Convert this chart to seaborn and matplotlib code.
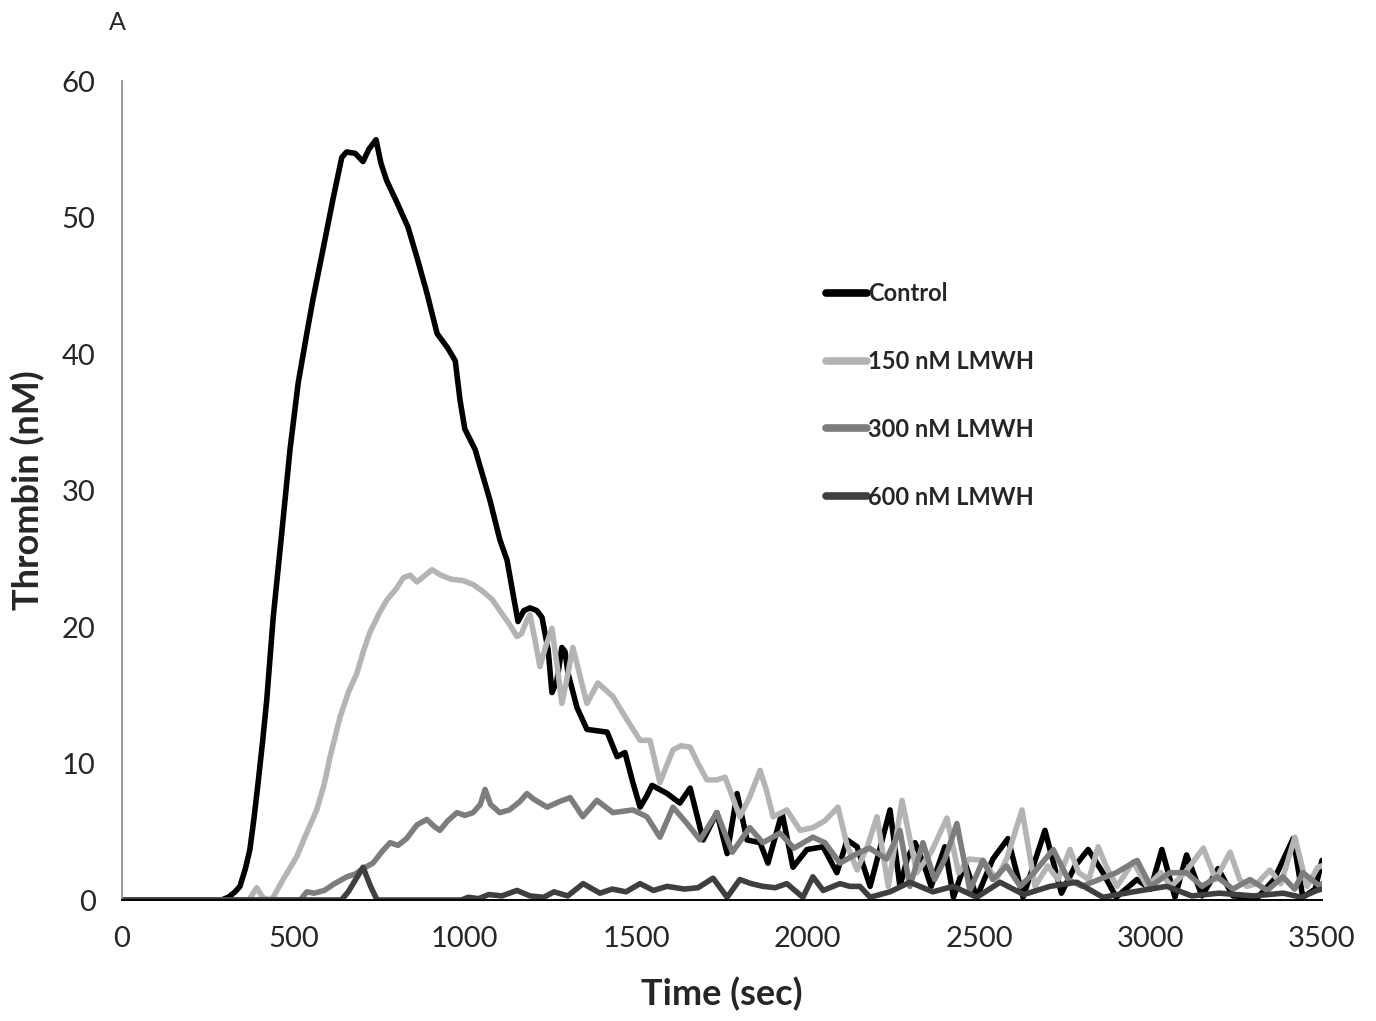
import numpy as np
import pandas as pd
import matplotlib
matplotlib.use("Agg")
import matplotlib.pyplot as plt
from matplotlib.lines import Line2D
import seaborn as sns

# Thrombin generation curves (time in seconds, thrombin in nM)
control_t = [0, 290, 310, 330, 344, 360, 373, 385, 397, 410, 422, 441, 466, 490, 514, 539, 557,
             585, 615, 641, 655, 680, 703, 720, 741, 755, 772, 802, 834, 860, 889, 919, 951, 972,
             986, 1000, 1030, 1073, 1102, 1123, 1140, 1155, 1172, 1190, 1210, 1225, 1243, 1254,
             1268, 1283, 1292, 1301, 1327, 1356, 1385, 1415, 1444, 1467, 1490, 1511, 1530, 1546,
             1590, 1627, 1657, 1695, 1735, 1765, 1794, 1823, 1861, 1884, 1925, 1957, 1998, 2045,
             2085, 2115, 2144, 2182, 2240, 2269, 2290, 2313, 2340, 2360, 2400, 2425, 2459, 2493,
             2540, 2584, 2628, 2692, 2740, 2780, 2818, 2861, 2900, 2960, 3000, 3033, 3071, 3105,
             3150, 3197, 3240, 3313, 3360, 3416, 3444, 3480, 3500]
control_v = [0, 0, 0.2, 0.6, 1.0, 2.3, 3.7, 6.0, 8.6, 11.6, 14.6, 20.7, 26.9, 33.0, 37.9, 41.5, 44.0,
             47.5, 51.3, 54.4, 54.8, 54.7, 54.1, 55.0, 55.7, 54.0, 52.7, 51.1, 49.3, 47.1, 44.5, 41.5,
             40.4, 39.5, 36.6, 34.5, 33.0, 29.3, 26.4, 24.9, 22.5, 20.4, 21.2, 21.4, 21.2, 20.7, 18.3,
             15.2, 16.0, 18.5, 18.2, 16.6, 14.1, 12.5, 12.4, 12.3, 10.5, 10.8, 8.6, 6.8, 7.6, 8.4,
             7.8, 7.1, 8.2, 4.4, 6.4, 3.4, 7.8, 4.4, 4.2, 2.7, 6.4, 2.4, 3.7, 3.9,
             2.0, 4.4, 3.9, 1.0, 6.6, 1.0, 3.0, 4.2, 2.5, 1.0, 3.9, 0.2, 2.7, 0.2,
             3.0, 4.5, 0.2, 5.1, 0.5, 2.5, 3.7, 2.0, 0.2, 1.5, 0.8, 3.7, 0.2, 3.3,
             0.3, 2.3, 0.3, 0.2, 1.5, 4.5, 0.2, 0.8, 2.9]

lmwh150_t = [0, 370, 393, 410, 430, 441, 470, 510, 540, 568, 590, 607, 636, 660, 685, 705, 723, 750,
             773, 800, 820, 840, 860, 880, 904, 930, 960, 995, 1025, 1053, 1080, 1102, 1130, 1152,
             1165, 1181, 1190, 1205, 1219, 1235, 1254, 1270, 1283, 1300, 1315, 1330, 1356, 1388,
             1410, 1432, 1473, 1511, 1540, 1569, 1607, 1630, 1657, 1680, 1706, 1735, 1759, 1802,
             1830, 1861, 1880, 1899, 1939, 1978, 2015, 2050, 2088, 2115, 2144, 2175, 2202, 2235,
             2275, 2318, 2360, 2406, 2440, 2470, 2511, 2550, 2580, 2625, 2663, 2700, 2730, 2765,
             2790, 2820, 2847, 2870, 2902, 2949, 2990, 3030, 3060, 3100, 3154, 3190, 3232, 3260,
             3281, 3310, 3348, 3380, 3421, 3456, 3488, 3500]
lmwh150_v = [0, 0, 0.9, 0.2, 0, 0.2, 1.5, 3.2, 5.0, 6.6, 8.5, 10.5, 13.4, 15.2, 16.6, 18.3, 19.6, 21.0,
             22.0, 22.8, 23.6, 23.8, 23.3, 23.7, 24.2, 23.8, 23.5, 23.4, 23.1, 22.6, 22.0, 21.2, 20.2,
             19.3, 19.5, 20.5, 20.9, 19.0, 17.1, 18.5, 19.9, 17.0, 14.4, 16.5, 18.5, 17.0, 14.4, 15.9,
             15.4, 14.9, 13.2, 11.7, 11.7, 8.6, 11.0, 11.3, 11.2, 10.0, 8.8, 8.8, 9.0, 6.1,
             7.5, 9.5, 8.0, 6.1, 6.6, 5.1, 5.3, 5.8, 6.8, 4.0, 2.2, 4.0, 6.1, 1.0,
             7.3, 2.0, 3.5, 6.0, 2.0, 3.0, 2.9, 1.5, 3.0, 6.6, 1.0, 2.5, 1.5, 3.7,
             2.0, 1.5, 3.9, 2.5, 1.0, 2.8, 1.0, 2.0, 1.0, 2.0, 3.8, 1.5, 3.5, 1.5,
             1.0, 1.2, 2.2, 1.2, 4.6, 1.0, 2.4, 2.5]

lmwh300_t = [0, 520, 539, 560, 590, 620, 656, 680, 703, 732, 760, 782, 805, 830, 860, 889, 910, 927,
             950, 977, 1000, 1024, 1045, 1059, 1075, 1102, 1130, 1160, 1181, 1200, 1240, 1275, 1307,
             1344, 1385, 1432, 1490, 1531, 1569, 1607, 1648, 1686, 1735, 1780, 1831, 1869, 1919,
             1960, 2015, 2050, 2094, 2144, 2180, 2230, 2269, 2298, 2336, 2370, 2400, 2435, 2473,
             2511, 2540, 2580, 2620, 2660, 2716, 2760, 2800, 2850, 2900, 2961, 3000, 3056, 3105,
             3150, 3194, 3240, 3290, 3340, 3386, 3420, 3444, 3494, 3500]
lmwh300_v = [0, 0, 0.6, 0.5, 0.7, 1.2, 1.7, 1.9, 2.3, 2.7, 3.6, 4.2, 4.0, 4.5, 5.5, 5.9, 5.4, 5.1,
             5.8, 6.4, 6.2, 6.4, 7.0, 8.1, 7.0, 6.4, 6.6, 7.2, 7.8, 7.4, 6.8, 7.2, 7.5,
             6.1, 7.3, 6.4, 6.6, 6.1, 4.6, 6.8, 5.6, 4.4, 6.4, 3.5, 5.3, 4.2, 4.9,
             3.8, 4.6, 4.2, 2.7, 3.4, 3.8, 3.0, 5.1, 1.0, 4.2, 1.5, 3.0, 5.6, 0.7,
             2.9, 1.5, 2.5, 1.0, 2.0, 3.7, 1.5, 1.0, 1.5, 2.0, 2.9, 1.0, 2.0, 2.0,
             1.0, 1.7, 0.8, 1.5, 0.7, 1.7, 0.8, 2.0, 1.0, 1.2]

lmwh600_t = [0, 640, 660, 703, 725, 744, 990, 1010, 1040, 1070, 1108, 1152, 1190, 1230, 1260, 1300,
             1345, 1394, 1430, 1470, 1511, 1550, 1590, 1640, 1680, 1724, 1765, 1802, 1835, 1869,
             1905, 1939, 1986, 2015, 2045, 2094, 2123, 2152, 2182, 2240, 2298, 2365, 2425, 2493,
             2561, 2630, 2707, 2785, 2861, 2950, 3047, 3120, 3200, 3300, 3387, 3440, 3485, 3500]
lmwh600_v = [0, 0, 0.6, 2.4, 1.0, 0, 0, 0.2, 0.1, 0.4, 0.3, 0.7, 0.3, 0.2, 0.6, 0.3,
             1.2, 0.5, 0.8, 0.6, 1.2, 0.7, 1.0, 0.8, 0.9, 1.6, 0.2, 1.5, 1.2, 1.0,
             0.9, 1.2, 0.2, 1.7, 0.7, 1.2, 1.0, 1.0, 0.2, 0.6, 1.3, 0.6, 1.0, 0.2,
             1.3, 0.4, 1.0, 1.3, 0.2, 0.6, 1.0, 0.3, 0.5, 0.3, 0.5, 0.2, 0.7, 0.8]

series_names = ["Control", "150 nM LMWH", "300 nM LMWH", "600 nM LMWH"]
series_colors = ["#000000", "#b4b4b4", "#7d7d7d", "#3f3f3f"]
x_ticks = [0, 500, 1000, 1500, 2000, 2500, 3000, 3500]
y_ticks = [0, 10, 20, 30, 40, 50, 60]

frames = []
for name, t, v in zip(series_names,
                      [control_t, lmwh150_t, lmwh300_t, lmwh600_t],
                      [control_v, lmwh150_v, lmwh300_v, lmwh600_v]):
    frames.append(pd.DataFrame({"Time": t, "Thrombin": v, "Series": name}))
df = pd.concat(frames, ignore_index=True)

sns.set_style("white")
plt.rcParams["font.family"] = ["Lato", "DejaVu Sans"]

fig = plt.figure(figsize=(13.76, 10.21), dpi=100)
ax = fig.add_axes([122 / 1376, 1 - 900 / 1021, 1200 / 1376, 819 / 1021])

sns.lineplot(data=df, x="Time", y="Thrombin", hue="Series", hue_order=series_names,
             palette=dict(zip(series_names, series_colors)), estimator=None, sort=True,
             linewidth=4.0, ax=ax, legend=False)
for line in ax.get_lines():
    line.set_solid_joinstyle("round")
    line.set_solid_capstyle("round")

ax.set_xlim(0, 3500)
ax.set_ylim(0, 60)
ax.set_xticks(x_ticks)
ax.set_yticks(y_ticks)
ax.tick_params(axis="both", labelsize=21, direction="out", length=7, width=1.2, pad=12)
ax.tick_params(axis="y", color="#808080")
ax.tick_params(axis="x", color="#000000")
for side in ("top", "right"):
    ax.spines[side].set_visible(False)
ax.spines["left"].set_color("#8a8a8a")
ax.spines["left"].set_linewidth(1.2)
ax.spines["bottom"].set_color("#000000")
ax.spines["bottom"].set_linewidth(1.4)

ax.set_xlabel("Time (sec)", fontsize=26, fontweight="bold")
ax.set_ylabel("Thrombin (nM)", fontsize=26, fontweight="bold")
ax.xaxis.set_label_coords(0.5, -0.094)
ax.yaxis.set_label_coords(-0.064, 0.5)

handles = [Line2D([0], [0], color=c, linewidth=5.5, solid_capstyle="round") for c in series_colors]
leg = fig.legend(handles, series_names, loc="upper left",
                 bbox_to_anchor=(826 / 1376, 1 - 282 / 1021),
                 frameon=False, handlelength=1.75, handletextpad=0.05,
                 labelspacing=1.9, borderpad=0, borderaxespad=0,
                 prop={"size": 17, "weight": "bold"})

fig.text(117 / 1376, 1 - 22 / 1021, "A", fontsize=18, ha="center", va="center")

fig.savefig("out.png", dpi=100, facecolor="white")
